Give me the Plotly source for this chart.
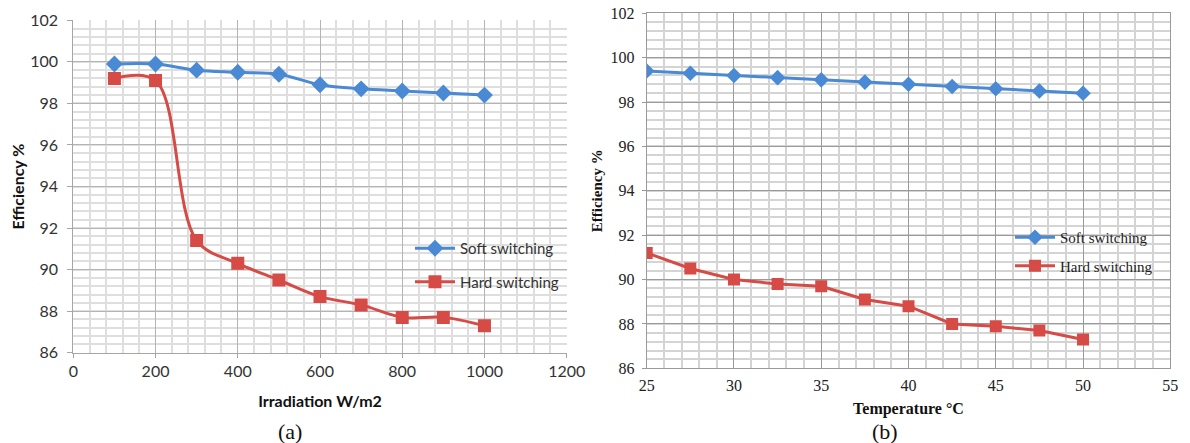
import plotly.graph_objects as go

# ---- data (a) ----
irradiation = [100, 200, 300, 400, 500, 600, 700, 800, 900, 1000]
soft_a = [99.9, 99.9, 99.6, 99.5, 99.4, 98.9, 98.7, 98.6, 98.5, 98.4]
hard_a = [99.2, 99.1, 91.4, 90.3, 89.5, 88.7, 88.3, 87.7, 87.7, 87.3]

# ---- data (b) ----
temperature = [25, 27.5, 30, 32.5, 35, 37.5, 40, 42.5, 45, 47.5, 50]
soft_b = [99.4, 99.3, 99.2, 99.1, 99.0, 98.9, 98.8, 98.7, 98.6, 98.5, 98.4]
hard_b = [91.2, 90.5, 90.0, 89.8, 89.7, 89.1, 88.8, 88.0, 87.9, 87.7, 87.3]

y_ticks = [86, 88, 90, 92, 94, 96, 98, 100, 102]

BLUE = "#4a89d4"
RED = "#d64b46"
SANS = "Lato, 'Open Sans', sans-serif"
SERIF = "'Liberation Serif', 'DejaVu Serif', serif"

fig = go.Figure()

fig.add_trace(go.Scatter(x=irradiation, y=soft_a, name="Soft switching", mode="lines+markers",
                         line=dict(color=BLUE, width=3, shape="spline"),
                         marker=dict(symbol="diamond", size=13, color=BLUE),
                         xaxis="x", yaxis="y", legend="legend", legendgroup="a_soft"))
fig.add_trace(go.Scatter(x=irradiation, y=hard_a, name="Hard switching", mode="lines+markers",
                         line=dict(color=RED, width=3, shape="spline"),
                         marker=dict(symbol="square", size=13, color=RED),
                         xaxis="x", yaxis="y", legend="legend", legendgroup="a_hard"))
fig.add_trace(go.Scatter(x=temperature, y=soft_b, name="Soft switching", mode="lines+markers",
                         line=dict(color=BLUE, width=3),
                         marker=dict(symbol="diamond", size=12, color=BLUE),
                         xaxis="x2", yaxis="y2", legend="legend2", legendgroup="b_soft"))
fig.add_trace(go.Scatter(x=temperature, y=hard_b, name="Hard switching", mode="lines+markers",
                         line=dict(color=RED, width=3),
                         marker=dict(symbol="square", size=12, color=RED),
                         xaxis="x2", yaxis="y2", legend="legend2", legendgroup="b_hard"))

# the page has an 8px body margin; lay the figure out in window pixels
OFF = 8
W, H = 1190 - OFF, 443 - OFF
def px_x(v):
    return (v - OFF) / W
def px_y(v):
    return 1 - (v - OFF) / H

MAJ_A = "#b4b4b4"
MIN_A = "#dedede"
MAJ_B = "#9a9a9a"
MIN_B = "#d4d4d4"

fig.update_layout(
    width=W, height=H,
    margin=dict(l=0, r=0, t=0, b=0, autoexpand=False),
    paper_bgcolor="white", plot_bgcolor="white",
    xaxis=dict(domain=[px_x(73.3), px_x(566.7)], range=[0, 1200], dtick=200, tick0=0,
               automargin=False,
               showgrid=True, gridcolor=MAJ_A, gridwidth=1,
               minor=dict(dtick=40, showgrid=True, gridcolor=MIN_A, gridwidth=1.5),
               showline=True, linecolor="#a6a6a6", linewidth=1, mirror=False,
               ticks="outside", ticklen=4, tickcolor="#a6a6a6",
               tickfont=dict(family=SANS, size=16, color="#333333"),
               title=dict(text="<b>Irradiation W/m2</b>", font=dict(family=SANS, size=16, color="#111111"), standoff=16),
               zeroline=False, anchor="y"),
    yaxis=dict(domain=[px_y(352.7), px_y(20.3)], range=[86, 102], tickvals=y_ticks,
               automargin=False,
               showgrid=True, gridcolor=MAJ_A, gridwidth=1,
               minor=dict(dtick=0.4, showgrid=True, gridcolor=MIN_A, gridwidth=1.5),
               showline=True, linecolor="#a6a6a6", linewidth=1,
               ticks="outside", ticklen=5, tickcolor="#a6a6a6", ticklabelstandoff=6,
               tickfont=dict(family=SANS, size=16, color="#333333"),
               title=dict(text="<b>Efficiency %</b>", font=dict(family=SANS, size=16, color="#111111"), standoff=12),
               zeroline=False, anchor="x"),
    xaxis2=dict(domain=[px_x(646.7), px_x(1170.3)], range=[25, 55], dtick=5, tick0=25,
                automargin=False,
                showgrid=True, gridcolor=MAJ_B, gridwidth=1,
                minor=dict(dtick=1, showgrid=True, gridcolor=MIN_B, gridwidth=1.5),
                showline=True, linecolor=MAJ_B, linewidth=1, mirror=True,
                ticks="", ticklabelstandoff=2,
                tickfont=dict(family=SERIF, size=16, color="#222222"),
                title=dict(text="<b>Temperature °C</b>", font=dict(family=SERIF, size=16, color="#111111"), standoff=10),
                zeroline=False, anchor="y2"),
    yaxis2=dict(domain=[px_y(368.3), px_y(13.3)], range=[86, 102], tickvals=y_ticks,
                automargin=False, ticklabeloverflow="allow",
                showgrid=True, gridcolor=MAJ_B, gridwidth=1,
                minor=dict(dtick=0.4, showgrid=True, gridcolor=MIN_B, gridwidth=1.5),
                showline=True, linecolor=MAJ_B, linewidth=1, mirror=True,
                ticks="outside", ticklen=4, tickcolor=MAJ_B, ticklabelstandoff=4,
                tickfont=dict(family=SERIF, size=16, color="#222222"),
                title=dict(text="<b>Efficiency %</b>", font=dict(family=SERIF, size=15, color="#111111"), standoff=4),
                zeroline=False, anchor="x2"),
    legend=dict(x=px_x(410), y=px_y(232), xanchor="left", yanchor="top",
                bgcolor="rgba(255,255,255,0)", borderwidth=0,
                font=dict(family=SANS, size=15, color="#333333"),
                itemwidth=40, tracegroupgap=11),
    legend2=dict(x=px_x(1010), y=px_y(221), xanchor="left", yanchor="top",
                 bgcolor="rgba(255,255,255,0)", borderwidth=0,
                 font=dict(family=SERIF, size=15, color="#222222"),
                 itemwidth=40, tracegroupgap=6),
    annotations=[
        dict(text="(a)", x=px_x(290), y=px_y(431), xref="paper", yref="paper",
             xanchor="center", yanchor="middle",
             showarrow=False, font=dict(family=SERIF, size=22, color="#111111")),
        dict(text="(b)", x=px_x(885), y=px_y(431), xref="paper", yref="paper",
             xanchor="center", yanchor="middle",
             showarrow=False, font=dict(family=SERIF, size=22, color="#111111")),
    ],
)

fig.write_html("out.html")
